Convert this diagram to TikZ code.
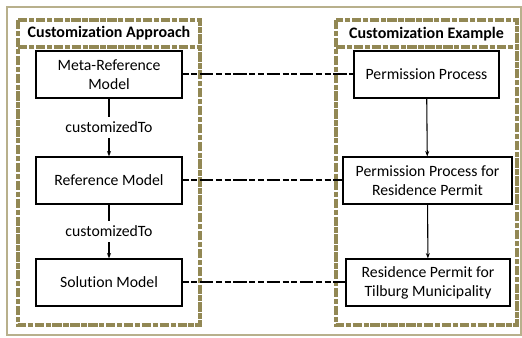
\documentclass[tikz,border=0pt]{standalone}
\usepackage{fontspec}
\setmainfont{Carlito}[Ligatures=NoCommon]
\usetikzlibrary{arrows.meta}

\definecolor{olive}{RGB}{146,136,84}
\definecolor{frameol}{RGB}{184,176,140}

\tikzset{every picture/.style={line width=0.75pt}}
\tikzset{
  modelbox/.style={draw, line width=0.9pt, align=center, inner sep=0pt, font=\fontsize{11.8}{14.2}\selectfont},
  panel/.style={draw=olive, line width=2.4pt, dash pattern=on 7pt off 1.2pt on 4pt off 1.2pt},
  linkline/.style={line width=1.5pt, dash pattern=on 4.5pt off 2pt on 4.5pt off 2pt on 10pt off 2pt},
  custarrow/.style={-{Stealth[length=4pt,width=3pt]}, line width=0.8pt}
}

\begin{document}
\begin{tikzpicture}[x=0.75pt,y=0.75pt,yscale=-1,xscale=1]
	\useasboundingbox (0,0) rectangle (522,338);

	%Outer frame
	\draw [frameol, line width=1.2pt] (7,7) rectangle (521,335) ;

	%Panels
	\draw [panel] (18,20) rectangle (200,325) ;
	\draw [panel] (18,47) -- (200,47) ;
	\draw [panel] (336,20) rectangle (517,325) ;
	\draw [panel] (336,47) -- (517,47) ;

	% Panel titles
	\node (apptitle) at (109,33.5) {\fontsize{12}{14}\selectfont\bfseries Customization Approach};
	\node (extitle) at (426.5,34) {\fontsize{12}{14}\selectfont\bfseries Customization Example};

	% Models
	\node [modelbox, minimum width=109.5pt, minimum height=35.25pt] (meta) at (109,74.5) {Meta-Reference\\Model};
	\node [modelbox, minimum width=109.5pt, minimum height=35.25pt] (ref) at (109,180.5) {Reference Model};
	\node [modelbox, minimum width=109.5pt, minimum height=35.25pt] (sol) at (109,282.5) {Solution Model};

	% Examples
	\node [modelbox, minimum width=108.75pt, minimum height=35.25pt] (perm) at (426.5,74.5) {Permission Process};
	\node [modelbox, minimum width=126.75pt, minimum height=35.25pt] (permres) at (427.5,180.5) {Permission Process for\\Residence Permit};
	\node [modelbox, minimum width=123pt, minimum height=35.25pt] (tilburg) at (428,282.5) {Residence Permit for\\Tilburg Municipality};

	% customizedTo arrows
	\draw [custarrow] (meta) -- node [fill=white, inner ysep=4pt, font=\fontsize{11.8}{14}\selectfont] (cust1) {customizedTo} (ref) ;
	\draw [custarrow] (ref) -- node [fill=white, inner ysep=4pt, font=\fontsize{11.8}{14}\selectfont] (cust2) {customizedTo} (sol) ;
	\draw [custarrow] (perm) -- (permres) ;
	\draw [custarrow] (permres) -- (tilburg) ;

	% Links
	\draw [linkline] (meta) -- (perm) ;
	\draw [linkline] (ref) -- (permres) ;
	\draw [linkline] (sol) -- (tilburg) ;

\end{tikzpicture}
\end{document}
